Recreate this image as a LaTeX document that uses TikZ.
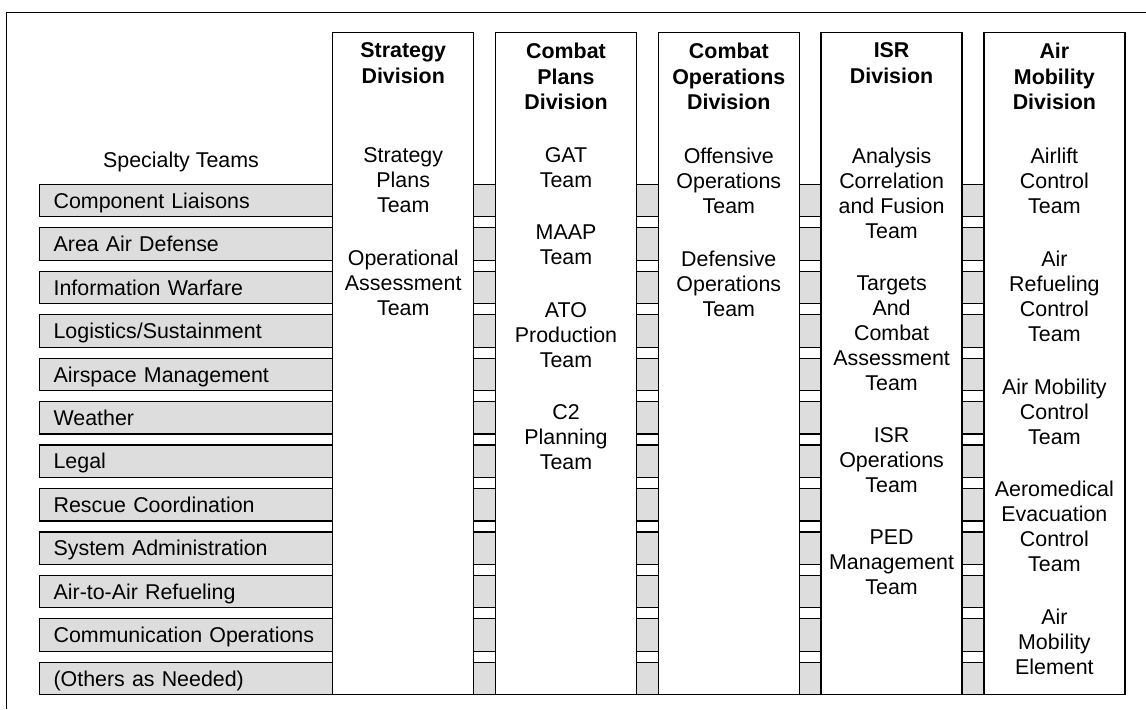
\documentclass[tikz,border=0pt]{standalone}
\usepackage{fontspec}
\setmainfont{Liberation Sans}
\usetikzlibrary{positioning}

\definecolor{barfill}{HTML}{DDDDDD}

\tikzset{
  divbox/.style={draw, fill=white, line width=0.7pt, inner sep=0pt,
    minimum width=70.5pt, minimum height=331pt, anchor=north west},
  bar/.style={draw, fill=barfill, line width=0.6pt, anchor=west,
    inner xsep=7pt, inner ysep=0pt, minimum height=16.25pt,
    text width=528.5pt, align=left, text height=7.65pt, text depth=0pt},
  divhead/.style={anchor=north, align=center, inner sep=0pt,
    font=\fontsize{10.7}{12.75}\selectfont\bfseries,
    execute at begin node=\strut, execute at end node=\strut},
  team/.style={anchor=north, align=center, inner sep=0pt,
    font=\fontsize{10.7}{12.5}\selectfont,
    execute at begin node=\strut, execute at end node=\strut},
}

\begin{document}
\begin{tikzpicture}[x=0.5pt, y=-0.5pt, font=\fontsize{10.7}{12.5}\selectfont]
    \useasboundingbox (0,0) rectangle (1146,709);
    % frame
    \draw[line width=0.5pt] (6,709) |- (1146,12);

    % specialty teams, running behind the divisions
    \node[anchor=base] (spec) at (181,167) {Specialty Teams};
    \foreach \t [count=\i from 0] in {Component Liaisons, Area Air Defense,
        Information Warfare, {Logistics/Sustainment}, Airspace Management,
        Weather, Legal, Rescue Coordination, System Administration,
        Air-to-Air Refueling, Communication Operations, (Others as Needed)}
      \node[bar] (bar\i) at (39,{200.55+43.45*\i}) {\t};

    % divisions
    \foreach \x/\n in {332/strat, 494.8/plans, 657.6/ops, 820.4/isr, 983.2/mob}
      \node[divbox] (\n) at (\x,32) {};

    \node[divhead, below=5.3pt of strat.north] (hstrat) {Strategy\\Division};
    \node[divhead, below=5.3pt of plans.north] (hplans) {Combat\\Plans\\Division};
    \node[divhead, below=5.3pt of ops.north] (hops) {Combat\\Operations\\Division};
    \node[divhead, below=5.3pt of isr.north] (hisr) {ISR\\Division};
    \node[divhead, below=5.3pt of mob.north] (hmob) {Air\\Mobility\\Division};

    % teams
    \node[team, below=57.75pt of strat.north] (stp) {Strategy\\Plans\\Team};
    \node[team, below=14.5pt of stp] (opa) {Operational\\Assessment\\Team};

    \node[team, below=57.75pt of plans.north] (gat) {GAT\\Team};
    \node[team, below=14.5pt of gat] (maap) {MAAP\\Team};
    \node[team, below=14.5pt of maap] (ato) {ATO\\Production\\Team};
    \node[team, below=14.5pt of ato] (ctp) {C2\\Planning\\Team};

    \node[team, below=57.75pt of ops.north] (off) {Offensive\\Operations\\Team};
    \node[team, below=14.5pt of off] (def) {Defensive\\Operations\\Team};

    \node[team, below=57.75pt of isr.north] (acf) {Analysis\\Correlation\\and Fusion\\Team};
    \node[team, below=14.5pt of acf] (tca) {Targets\\And\\Combat\\Assessment\\Team};
    \node[team, below=14.5pt of tca] (iso) {ISR\\Operations\\Team};
    \node[team, below=14.5pt of iso] (ped) {PED\\Management\\Team};

    \node[team, below=57.75pt of mob.north] (alc) {Airlift\\Control\\Team};
    \node[team, below=14.5pt of alc] (arc) {Air\\Refueling\\Control\\Team};
    \node[team, below=14.5pt of arc] (amc) {Air Mobility\\Control\\Team};
    \node[team, below=14.5pt of amc] (aec) {Aeromedical\\Evacuation\\Control\\Team};
    \node[team, below=14.5pt of aec] (ame) {Air\\Mobility\\Element};
\end{tikzpicture}
\end{document}
